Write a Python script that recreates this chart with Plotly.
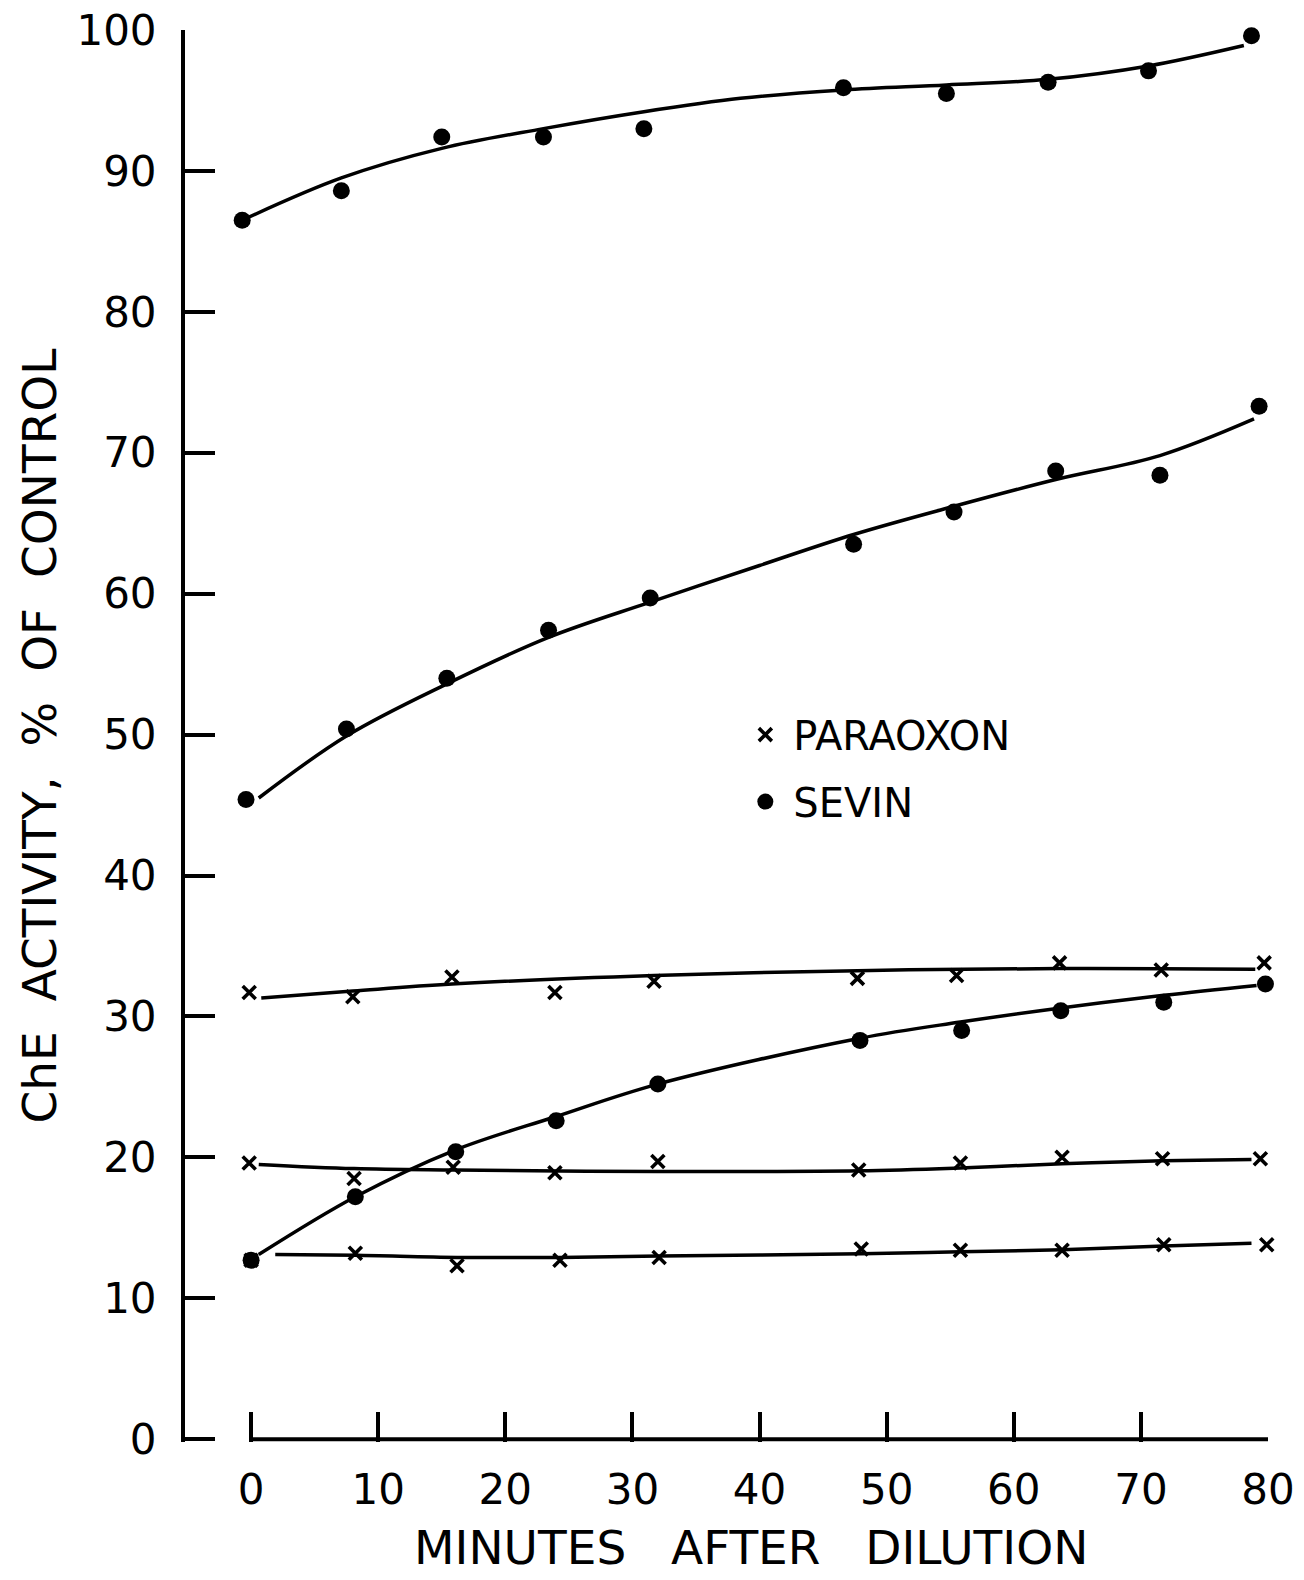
import plotly.graph_objects as go

# ChE activity (% of control) after dilution of inhibited enzyme
# --- Sevin, measured points ---
sevin_high_t = [-0.7, 7.1, 15.0, 23.0, 30.9, 46.6, 54.7, 62.7, 70.6, 78.7]
sevin_high = [86.5, 88.6, 92.4, 92.4, 93.0, 95.9, 95.5, 96.3, 97.1, 99.6]

sevin_mid_t = [-0.4, 7.5, 15.4, 23.4, 31.4, 47.4, 55.3, 63.3, 71.5, 79.3]
sevin_mid = [45.4, 50.4, 54.0, 57.4, 59.7, 63.5, 65.8, 68.7, 68.4, 73.3]

sevin_low_t = [0.0, 8.2, 16.1, 24.0, 32.0, 47.9, 55.9, 63.7, 71.8, 79.8]
sevin_low = [12.7, 17.2, 20.4, 22.6, 25.2, 28.3, 29.0, 30.4, 31.0, 32.3]

# --- Paraoxon, measured points ---
para_high_t = [-0.15, 8.0, 15.8, 23.9, 31.7, 47.7, 55.5, 63.6, 71.6, 79.7]
para_high = [31.7, 31.4, 32.8, 31.7, 32.5, 32.7, 32.9, 33.8, 33.3, 33.8]

para_mid_t = [-0.15, 8.1, 15.9, 23.9, 32.0, 47.8, 55.8, 63.8, 71.7, 79.4]
para_mid = [19.6, 18.5, 19.3, 18.9, 19.7, 19.1, 19.6, 20.0, 19.9, 19.9]

para_low_t = [0.0, 8.2, 16.2, 24.3, 32.1, 48.0, 55.8, 63.8, 71.8, 79.9]
para_low = [12.7, 13.2, 12.3, 12.7, 12.9, 13.5, 13.4, 13.4, 13.8, 13.8]

# --- hand-fitted smooth curves through each set ---
fit_sevin_high_t = [-0.7, 7.1, 15.0, 23.0, 30.9, 38.5, 46.6, 54.7, 62.7, 70.6, 78.1]
fit_sevin_high = [86.5, 89.5, 91.6, 93.0, 94.2, 95.15, 95.75, 96.1, 96.5, 97.45, 98.9]

fit_sevin_mid_t = [0.6, 7.5, 15.4, 23.4, 31.4, 40.0, 47.4, 55.3, 63.3, 71.5, 78.9]
fit_sevin_mid = [45.5, 49.9, 53.6, 56.9, 59.4, 62.0, 64.2, 66.2, 68.1, 69.8, 72.4]

fit_sevin_low_t = [0.6, 8.2, 16.0, 24.0, 32.0, 47.9, 55.8, 63.7, 71.8, 79.1]
fit_sevin_low = [13.1, 17.2, 20.5, 22.9, 25.2, 28.45, 29.6, 30.6, 31.5, 32.2]

fit_para_high_t = [0.8, 8.0, 15.8, 31.7, 47.7, 63.6, 79.0]
fit_para_high = [31.3, 31.8, 32.3, 32.9, 33.25, 33.4, 33.35]

fit_para_mid_t = [0.6, 8.1, 16.0, 32.0, 47.8, 55.8, 63.8, 71.7, 78.7]
fit_para_mid = [19.5, 19.2, 19.1, 19.0, 19.05, 19.25, 19.55, 19.75, 19.85]

fit_para_low_t = [1.9, 8.2, 16.2, 24.3, 32.1, 48.0, 55.8, 63.8, 71.8, 78.7]
fit_para_low = [13.1, 13.05, 12.9, 12.9, 13.0, 13.15, 13.3, 13.45, 13.7, 13.9]

x_ticks = [0, 10, 20, 30, 40, 50, 60, 70, 80]
y_ticks = [0, 10, 20, 30, 40, 50, 60, 70, 80, 90, 100]

FONT = "DejaVu Sans"
INK = "black"
NB = "\u00a0"

fig = go.Figure()

# smooth curves (no legend entries)
curves = [
    (fit_sevin_high_t, fit_sevin_high),
    (fit_sevin_mid_t, fit_sevin_mid),
    (fit_sevin_low_t, fit_sevin_low),
    (fit_para_high_t, fit_para_high),
    (fit_para_mid_t, fit_para_mid),
    (fit_para_low_t, fit_para_low),
]
for t, v in curves:
    fig.add_trace(go.Scatter(
        x=t, y=v, mode="lines",
        line=dict(color=INK, width=3.5, shape="spline", smoothing=1.0),
        showlegend=False, hoverinfo="skip",
    ))

# paraoxon points: small crosses
fig.add_trace(go.Scatter(
    x=para_high_t + para_mid_t + para_low_t,
    y=para_high + para_mid + para_low,
    mode="markers", name="PARAOXON", legendgroup="paraoxon",
    marker=dict(symbol="x-thin", size=13, color=INK, line=dict(color=INK, width=3.6)),
    cliponaxis=False,
))

# sevin points: filled dots
fig.add_trace(go.Scatter(
    x=sevin_high_t + sevin_mid_t + sevin_low_t,
    y=sevin_high + sevin_mid + sevin_low,
    mode="markers", name="SEVIN", legendgroup="sevin",
    marker=dict(symbol="circle", size=17, color=INK),
    cliponaxis=False,
))

fig.update_layout(
    template="none",
    width=1304, height=1580, autosize=False,
    margin=dict(l=185, r=36, t=30, b=138, pad=0),
    paper_bgcolor="white", plot_bgcolor="white",
    font=dict(family=FONT, color=INK),
    xaxis=dict(
        range=[-5.2, 80], tickvals=x_ticks,
        ticks="inside", ticklen=30, tickwidth=4, tickcolor=INK,
        showline=False, showgrid=False, zeroline=False, automargin=False,
        tickfont=dict(family=FONT, size=42, color=INK), ticklabelstandoff=19,
    ),
    yaxis=dict(
        range=[-0.2, 100], tickvals=y_ticks,
        ticks="inside", ticklen=30, tickwidth=4, tickcolor=INK,
        showline=True, linewidth=4, linecolor=INK,
        showgrid=False, zeroline=False, automargin=False,
        tickfont=dict(family=FONT, size=42, color=INK), ticklabelstandoff=16,
        title=dict(text=f"ChE{NB}{NB}ACTIVITY,{NB}{NB}%{NB}{NB}OF{NB}{NB}CONTROL",
                   font=dict(family=FONT, size=47, color=INK), standoff=6),
    ),
    legend=dict(
        x=0.51, y=0.524, xanchor="left", yanchor="top",
        font=dict(family=FONT, size=40, color=INK),
        bgcolor="rgba(0,0,0,0)", borderwidth=0,
        tracegroupgap=12, itemsizing="trace", itemwidth=46,
    ),
    annotations=[dict(
        text=f"MINUTES{NB}{NB}{NB}AFTER{NB}{NB}{NB}DILUTION",
        xref="paper", yref="paper", x=0.5226, y=-0.0955,
        xanchor="center", yanchor="bottom", showarrow=False,
        font=dict(family=FONT, size=47, color=INK),
    )],
    shapes=[dict(
        type="line", xref="x", yref="y",
        x0=x_ticks[0], x1=x_ticks[-1], y0=0, y1=0,
        line=dict(color=INK, width=4),
    )],
)

fig.write_html("out.html")
